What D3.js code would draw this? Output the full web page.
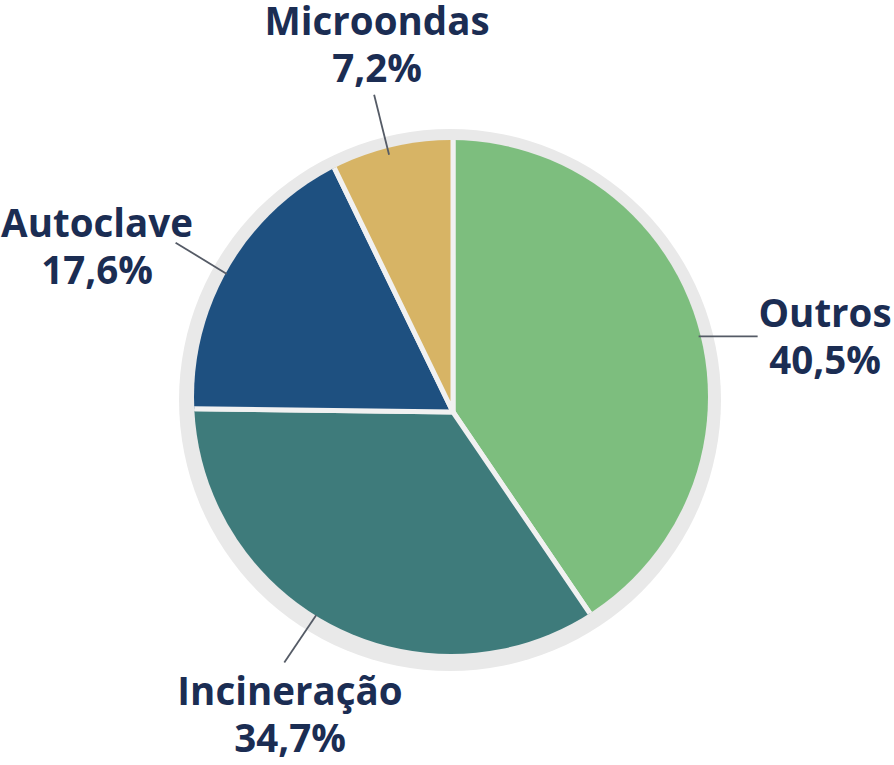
<!DOCTYPE html>
<html>
<head>
<meta charset="utf-8">
<script src="https://cdn.jsdelivr.net/npm/d3@7"></script>
<style>
  html, body { margin: 0; padding: 0; background: #ffffff; }
  svg { display: block; }
</style>
</head>
<body>
<svg id="chart" width="894" height="765"></svg>
<script>
// ---- data ----
const categories = ["Outros", "Incineração", "Autoclave", "Microondas"];
const values = [40.5, 34.7, 17.6, 7.2];
const valueLabels = ["40,5%", "34,7%", "17,6%", "7,2%"];
const colors = ["#7dbe7e", "#3e7b7b", "#1e5080", "#d7b465"];

// ---- layout ----
const svg = d3.select("#chart");
const wedgeCenter = [453, 412];
const discCenter = [451, 397];
const discR = 257;
const ringCenter = [450, 400];
const ringR = 271;
const textColor = "#1b2d53";

const data = categories.map((c, i) => ({ name: c, value: values[i], label: valueLabels[i], color: colors[i] }));

// background ring
svg.append("circle")
  .attr("cx", ringCenter[0]).attr("cy", ringCenter[1]).attr("r", ringR)
  .attr("fill", "#e9e9e9");

// clip for the disc
svg.append("defs").append("clipPath").attr("id", "disc")
  .append("circle")
  .attr("cx", discCenter[0] - wedgeCenter[0])
  .attr("cy", discCenter[1] - wedgeCenter[1])
  .attr("r", discR);

const pie = d3.pie().sort(null).value(d => d.value);
const arcs = pie(data);
const arc = d3.arc().innerRadius(0).outerRadius(320);

const g = svg.append("g")
  .attr("transform", `translate(${wedgeCenter[0]},${wedgeCenter[1]})`)
  .attr("clip-path", "url(#disc)");

g.selectAll("path.slice")
  .data(arcs)
  .enter().append("path")
  .attr("class", "slice")
  .attr("d", arc)
  .attr("fill", d => d.data.color)
  .attr("stroke", "#f1f1f1")
  .attr("stroke-width", 5)
  .attr("stroke-linejoin", "round");

// ---- labels & leader lines ----
const labelLayout = {
  "Outros":      { angOff: 0,   r1: 257, r2: null, dx: 59, tx: 825, ty: 327 },
  "Incineração": { angOff: 5.7, r1: 245, r2: 302, tx: 290, ty: 705 },
  "Autoclave":   { angOff: -1,  r1: 265, r2: 325, tx: 97,  ty: 237 },
  "Microondas":  { angOff: -1,  r1: 265, r2: 327, tx: 377, ty: 35 }
};
const lineGap = 47;

function polar(angDeg, r) {
  const a = angDeg * Math.PI / 180;
  return [wedgeCenter[0] + r * Math.sin(a), wedgeCenter[1] - r * Math.cos(a)];
}

arcs.forEach(d => {
  const L = labelLayout[d.data.name];
  const mid = ((d.startAngle + d.endAngle) / 2) * 180 / Math.PI + L.angOff;
  const p1 = polar(mid, L.r1);
  const p2 = L.r2 ? polar(mid, L.r2) : [p1[0] + L.dx, p1[1]];
  svg.append("line")
    .attr("x1", p1[0]).attr("y1", p1[1])
    .attr("x2", p2[0]).attr("y2", p2[1])
    .attr("stroke", "#555b66")
    .attr("stroke-width", 1.8);

  const t = svg.append("text")
    .attr("x", L.tx).attr("y", L.ty)
    .attr("text-anchor", "middle")
    .attr("fill", textColor)
    .attr("font-family", "'Open Sans', sans-serif")
    .attr("font-weight", 700)
    .attr("font-size", 38.5);
  t.append("tspan").attr("x", L.tx).attr("y", L.ty).text(d.data.name);
  t.append("tspan").attr("x", L.tx).attr("y", L.ty + lineGap).text(d.data.label);
});
</script>
</body>
</html>
